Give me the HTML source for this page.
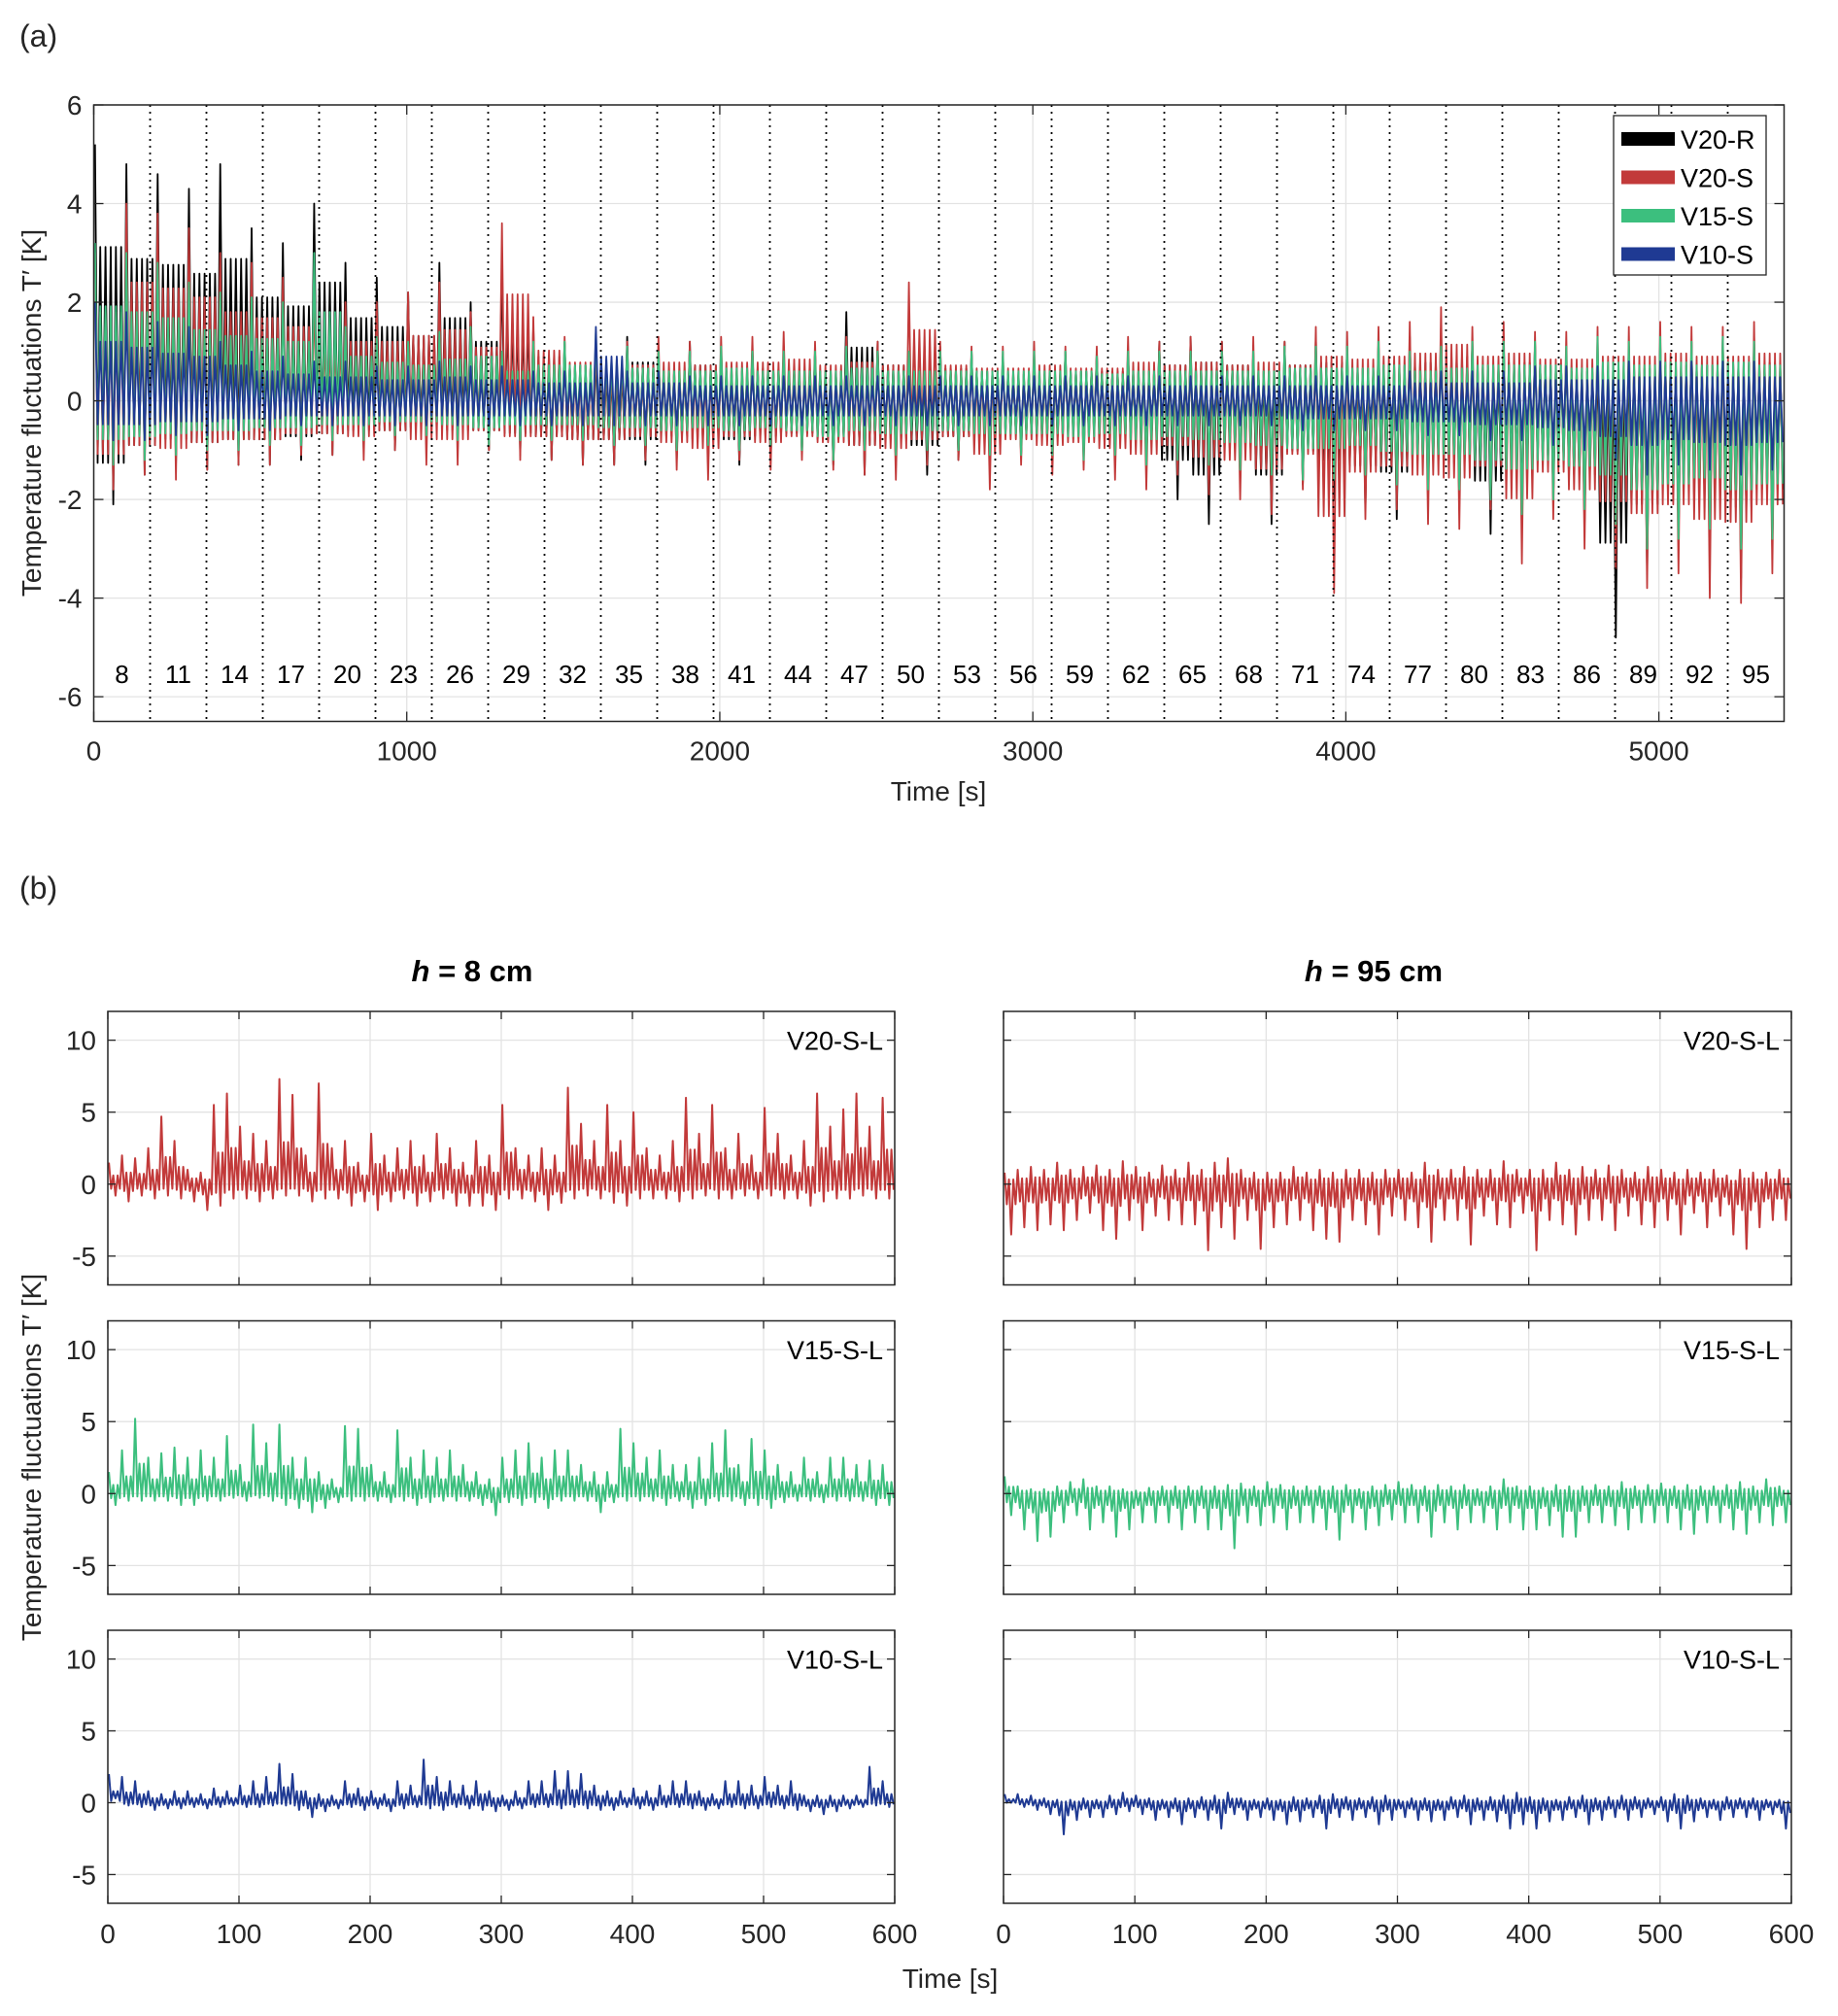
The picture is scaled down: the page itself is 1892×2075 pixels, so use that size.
<!DOCTYPE html>
<html><head><meta charset="utf-8"><style>
html,body{margin:0;padding:0;background:#fff}
svg{display:block;font-family:"Liberation Sans",sans-serif}
</style></head><body>
<svg id="fig" width="1892" height="2075" viewBox="0 0 1892 2075" xmlns="http://www.w3.org/2000/svg"></svg>
<script>
// ---- Panel (a) data: per-100 s envelope (max / min) of each series ----
const aSlotStarts = [0,100,200,300,400,500,600,700,800,900,1000,1100,1200,1300,1400,1500,1600,1700,1800,1900,2000,2100,2200,2300,2400,2500,2600,2700,2800,2900,3000,3100,3200,3300,3400,3500,3600,3700,3800,3900,4000,4100,4200,4300,4400,4500,4600,4700,4800,4900,5000,5100,5200,5300];
const aBlackHi=[5.2,4.8,4.6,4.3,4.8,3.5,3.2,4.0,2.8,2.5,2.2,2.8,2.0,2.8,1.5,1.2,1.0,1.3,1.0,1.2,1.0,1.1,1.0,1.0,1.8,1.2,1.0,1.1,1.0,0.9,0.9,1.0,1.0,1.0,1.2,1.3,1.2,1.0,1.2,1.3,1.1,1.2,1.3,1.5,1.2,1.3,1.2,1.0,1.0,1.1,1.2,1.2,1.3,1.3];
const aBlackLo=[-2.1,-1.5,-1.3,-1.4,-1.3,-1.3,-1.2,-1.1,-1.0,-1.0,-0.9,-1.0,-1.0,-1.1,-1.2,-1.3,-1.3,-1.3,-1.2,-1.3,-1.3,-1.2,-1.1,-1.3,-1.5,-1.3,-1.5,-1.2,-1.2,-1.1,-1.2,-1.1,-1.2,-1.3,-2.0,-2.5,-1.6,-2.5,-1.7,-2.0,-2.2,-2.4,-2.0,-2.1,-2.7,-2.3,-2.0,-2.5,-4.8,-3.5,-2.8,-3.2,-3.6,-3.0];
const aRedHi=[3.0,4.0,3.8,3.5,3.0,2.8,2.5,2.2,2.0,2.0,2.2,2.4,1.8,3.6,1.7,1.3,1.2,1.2,1.3,1.2,1.3,1.3,1.4,1.2,1.3,1.2,2.4,1.2,1.1,1.1,1.2,1.1,1.1,1.3,1.2,1.3,1.2,1.3,1.2,1.5,1.4,1.5,1.6,1.9,1.5,1.6,1.4,1.4,1.5,1.5,1.6,1.5,1.5,1.6];
const aRedLo=[-1.8,-1.5,-1.6,-1.4,-1.3,-1.3,-1.1,-1.1,-1.2,-1.0,-1.3,-1.3,-1.0,-1.2,-1.2,-1.3,-1.3,-1.2,-1.4,-1.6,-1.2,-1.4,-1.2,-1.4,-1.5,-1.6,-1.3,-1.2,-1.8,-1.3,-1.5,-1.4,-1.6,-1.8,-1.5,-1.9,-2.0,-2.3,-1.8,-3.9,-2.4,-2.2,-2.5,-2.6,-2.2,-3.3,-2.4,-3.0,-3.4,-3.8,-3.5,-4.0,-4.1,-3.5];
const aGreenHi=[3.2,3.0,2.8,2.4,2.2,2.1,2.0,3.0,1.5,1.3,1.2,1.4,1.5,1.0,1.2,1.2,1.4,1.1,1.0,1.0,1.1,1.0,1.0,1.0,1.1,1.0,1.0,1.0,1.0,1.0,1.0,1.0,0.9,1.0,1.0,1.0,1.0,1.0,1.1,1.1,1.1,1.2,1.0,1.1,1.2,1.2,1.2,1.1,1.3,1.2,1.3,1.2,1.3,1.2];
const aGreenLo=[-1.3,-1.2,-1.1,-1.0,-1.0,-0.9,-0.9,-0.8,-0.8,-0.7,-0.7,-0.8,-0.9,-0.8,-0.8,-0.8,-0.9,-0.9,-1.0,-0.9,-1.0,-0.9,-1.0,-1.2,-1.0,-1.1,-1.0,-1.0,-1.1,-1.1,-1.1,-1.2,-1.1,-1.3,-1.2,-1.3,-1.4,-1.5,-1.6,-1.6,-1.5,-1.7,-1.8,-1.8,-2.0,-2.3,-2.0,-2.2,-2.5,-3.0,-2.8,-2.6,-3.0,-2.8];
const aBlueHi=[2.0,1.8,1.6,1.5,1.2,1.0,0.9,0.8,0.8,0.7,0.7,0.8,0.7,0.7,0.6,0.6,1.5,0.6,0.6,0.5,0.5,0.5,0.5,0.5,0.5,0.5,0.5,0.5,0.5,0.5,0.5,0.5,0.5,0.5,0.5,0.5,0.5,0.5,0.5,0.5,0.5,0.5,0.6,0.6,0.6,0.6,0.7,0.7,0.7,0.8,0.8,0.8,0.8,0.8];
const aBlueLo=[-0.8,-0.8,-0.7,-0.7,-0.6,-0.6,-0.5,-0.5,-0.5,-0.5,-0.5,-0.5,-0.5,-0.5,-0.5,-0.5,-0.5,-0.5,-0.5,-0.5,-0.5,-0.5,-0.5,-0.5,-0.5,-0.5,-0.5,-0.5,-0.5,-0.5,-0.5,-0.5,-0.5,-0.5,-0.5,-0.5,-0.5,-0.5,-0.6,-0.6,-0.6,-0.6,-0.7,-0.7,-0.8,-0.8,-0.9,-1.0,-1.2,-1.5,-1.3,-1.4,-1.5,-1.4];
const aXTicks=[0,1000,2000,3000,4000,5000];
const aYTicks=[-6,-4,-2,0,2,4,6];
const aSegmentBounds=[180,360,540,720,900,1080,1260,1440,1620,1800,1980,2160,2340,2520,2700,2880,3060,3240,3420,3600,3780,3960,4140,4320,4500,4680,4860,5040,5220];
const aHeightLabels=["8","11","14","17","20","23","26","29","32","35","38","41","44","47","50","53","56","59","62","65","68","71","74","77","80","83","86","89","92","95"];
const aLegendNames=["V20-R","V20-S","V15-S","V10-S"];

// ---- Panel (b) data: per-10 s envelopes ----
const bSlotStarts=[0,10,20,30,40,50,60,70,80,90,100,110,120,130,140,150,160,170,180,190,200,210,220,230,240,250,260,270,280,290,300,310,320,330,340,350,360,370,380,390,400,410,420,430,440,450,460,470,480,490,500,510,520,530,540,550,560,570,580,590];
const bXTicks=[0,100,200,300,400,500,600];
const bYTicks=[-5,0,5,10];
const v20LowHi=[1.5,2.0,1.8,2.5,4.7,3.0,1.0,0.8,5.5,6.3,4.0,3.5,3.0,7.3,6.2,2.0,7.0,2.5,3.0,1.5,3.5,2.0,2.5,3.0,2.0,3.5,2.5,1.5,3.0,2.0,5.5,2.5,2.0,2.5,2.0,6.7,4.2,3.0,5.5,3.0,5.0,2.5,2.0,3.0,6.0,3.5,5.5,2.5,3.5,2.0,5.3,3.5,2.0,3.0,6.3,4.0,5.2,6.3,4.0,6.0];
const v20LowLo=[-0.8,-1.2,-0.8,-1.0,-0.8,-1.0,-1.2,-1.8,-1.5,-1.0,-1.0,-1.2,-1.0,-0.8,-0.8,-1.2,-1.0,-1.0,-1.5,-1.2,-1.8,-1.2,-1.0,-1.5,-1.2,-1.0,-1.5,-1.5,-1.5,-1.8,-1.0,-1.0,-1.2,-1.8,-1.3,-1.0,-0.8,-1.0,-1.3,-1.5,-1.0,-1.0,-1.0,-1.2,-1.0,-0.8,-1.0,-1.0,-0.8,-1.0,-0.8,-1.0,-1.0,-1.5,-1.2,-1.0,-1.0,-0.8,-1.0,-1.0];
const v20HighHi=[0.8,1.0,1.2,1.0,1.5,1.0,1.2,1.3,1.0,1.6,1.2,0.8,1.3,1.0,1.5,1.0,1.5,1.8,1.0,0.8,0.8,0.8,1.2,0.8,1.0,0.8,1.0,1.0,0.8,1.0,1.0,0.8,1.5,1.0,1.0,1.2,1.0,1.0,1.6,1.0,1.0,1.0,1.5,1.0,1.2,1.0,1.3,1.0,0.8,1.2,1.0,0.8,1.0,0.8,1.0,0.6,1.0,0.8,0.8,1.0];
const v20HighLo=[-3.5,-3.0,-3.2,-2.8,-3.2,-2.5,-2.0,-3.2,-3.8,-2.5,-3.2,-2.2,-2.5,-2.8,-2.8,-4.6,-3.0,-3.8,-2.5,-4.5,-3.0,-2.8,-2.5,-3.2,-3.8,-4.0,-2.5,-2.8,-3.5,-2.2,-2.5,-3.0,-4.0,-2.5,-2.5,-4.2,-2.2,-2.8,-3.0,-2.0,-4.6,-2.5,-2.8,-3.5,-2.5,-2.5,-3.2,-2.2,-2.8,-3.0,-2.5,-3.5,-2.0,-3.0,-2.2,-3.5,-4.5,-3.0,-2.5,-2.5];
const v15LowHi=[1.5,3.0,5.2,2.5,2.8,3.2,2.5,3.0,2.5,4.0,2.0,4.8,3.5,4.8,2.5,2.5,1.5,1.0,4.7,4.5,2.0,1.5,4.4,2.5,3.0,2.5,3.0,2.0,1.5,1.0,2.5,3.0,3.5,2.5,3.0,3.0,2.0,1.5,1.5,4.5,3.5,2.5,3.0,2.0,2.0,2.5,3.5,4.4,2.0,3.8,3.0,2.0,1.5,2.5,1.5,2.5,2.5,2.0,2.3,2.0];
const v15LowLo=[-0.8,-0.5,-0.5,-0.5,-0.5,-0.8,-0.8,-0.5,-0.5,-0.3,-0.5,-0.3,-0.5,-0.8,-1.0,-1.3,-1.0,-0.6,-0.5,-0.5,-0.5,-0.6,-0.5,-0.8,-0.6,-0.5,-0.5,-0.5,-0.8,-1.5,-0.6,-0.8,-0.6,-1.0,-0.5,-0.5,-0.5,-1.3,-0.6,-0.5,-0.5,-0.5,-0.8,-0.5,-1.0,-0.8,-0.5,-0.5,-0.8,-0.8,-1.0,-0.6,-0.5,-0.5,-0.6,-0.5,-0.5,-0.5,-0.8,-0.8];
const v15HighHi=[1.2,0.5,0.3,0.3,0.5,0.8,1.0,0.5,0.5,0.3,0.2,0.4,0.5,0.5,0.5,0.5,0.5,0.6,0.7,0.5,0.8,0.6,0.5,0.5,0.5,0.5,0.6,0.3,0.5,0.6,0.8,0.6,0.5,0.6,0.5,0.6,0.3,0.5,1.0,0.5,0.5,0.4,0.6,0.5,0.5,0.6,0.5,0.8,0.5,0.6,0.7,0.5,0.6,0.5,0.5,0.6,0.8,0.5,1.0,0.5];
const v15HighLo=[-1.5,-2.5,-3.3,-3.0,-2.0,-1.5,-2.5,-2.0,-3.0,-2.5,-2.0,-2.0,-2.0,-2.5,-2.0,-2.5,-2.5,-3.8,-2.0,-2.2,-2.0,-2.5,-2.0,-2.0,-2.5,-3.2,-2.0,-2.5,-2.2,-1.8,-2.0,-2.0,-3.0,-2.0,-2.5,-2.0,-2.0,-2.5,-2.0,-2.5,-2.5,-2.2,-3.0,-3.0,-2.0,-2.0,-2.2,-2.5,-2.0,-2.0,-2.0,-2.5,-2.8,-2.0,-2.0,-2.5,-2.8,-2.0,-2.2,-2.0];
const v10LowHi=[2.0,1.8,1.5,0.8,0.6,0.8,0.8,0.6,1.0,0.8,1.2,1.5,1.8,2.7,2.0,0.8,0.6,0.5,1.5,1.0,0.8,0.6,1.5,1.2,3.0,1.8,1.5,1.2,1.5,0.8,0.5,0.8,1.5,1.5,2.2,2.2,2.0,1.2,0.8,0.8,1.0,0.8,1.2,1.5,1.5,0.8,0.6,1.5,1.5,1.2,1.8,1.2,1.5,0.5,0.5,0.5,0.5,0.5,2.5,1.5];
const v10LowLo=[0.3,-0.2,-0.3,-0.5,-0.4,-0.4,-0.3,-0.4,-0.3,-0.2,-0.3,-0.3,-0.2,-0.2,-0.5,-1.0,-0.6,-0.4,-0.3,-0.5,-0.4,-0.6,-0.4,-0.3,-0.4,-0.5,-0.3,-0.4,-0.5,-0.6,-0.5,-0.4,-0.3,-0.3,-0.4,-0.3,-0.4,-0.5,-0.5,-0.3,-0.4,-0.5,-0.3,-0.3,-0.4,-0.5,-0.4,-0.3,-0.4,-0.4,-0.3,-0.4,-0.5,-0.6,-0.8,-0.6,-0.4,-0.3,-0.2,-0.3];
const v10HighHi=[0.6,0.6,0.5,0.3,0.2,0.2,0.3,0.2,0.5,0.7,0.5,0.3,0.2,0.3,0.3,0.4,0.5,0.7,0.3,0.2,0.3,0.2,0.4,0.3,0.5,0.6,0.4,0.3,0.4,0.5,0.2,0.3,0.3,0.2,0.4,0.5,0.3,0.4,0.5,0.7,0.4,0.3,0.2,0.4,0.5,0.3,0.4,0.5,0.4,0.3,0.4,0.6,0.5,0.3,0.2,0.4,0.3,0.3,0.2,0.2];
const v10HighLo=[0,-0.3,-0.5,-0.8,-2.2,-1.2,-1.0,-1.0,-0.8,-0.6,-0.8,-1.2,-1.0,-1.5,-1.0,-1.2,-1.8,-0.8,-1.2,-1.0,-1.2,-1.5,-1.3,-1.0,-1.8,-1.0,-1.2,-1.0,-1.5,-1.2,-1.0,-1.2,-1.3,-1.2,-1.0,-1.5,-1.2,-1.3,-1.8,-1.5,-1.8,-1.3,-1.2,-1.0,-1.5,-1.2,-1.0,-1.2,-1.0,-0.8,-1.3,-1.8,-1.3,-1.0,-1.2,-1.0,-1.0,-1.2,-0.8,-1.8];

const NS="http://www.w3.org/2000/svg";
const svg=document.getElementById('fig');
const C={black:"#000000",red:"#c23a3a",green:"#3cbf7e",blue:"#1f3a93"};
function mk(tag,attrs,parent){const e=document.createElementNS(NS,tag);for(const k in attrs)e.setAttribute(k,attrs[k]);(parent||svg).appendChild(e);return e;}
function txt(s,x,y,size,anchor,parent,extra){const t=mk('text',Object.assign({x:x,y:y,'font-size':size,'text-anchor':anchor||'middle',fill:'#262626'},extra||{}),parent);t.textContent=s;return t;}
function scale(d0,d1,r0,r1){return v=>r0+(v-d0)/(d1-d0)*(r1-r0);}

// Dense oscillating trace within each slot: one sub-cycle reaches the slot's
// recorded max, another its recorded min, the rest stay in the core band.
function drawEnvelope(g,xs,ys,starts,dt,hi,lo,color,w,sub,core){
  let pts=[];
  for(let i=0;i<starts.length;i++){
    for(let k=0;k<sub;k++){
      const t0=starts[i]+dt*k/sub;
      pts.push(xs(t0+dt/sub*0.25).toFixed(1)+','+ys(hi[i]*(k===0?1:core)).toFixed(1));
      pts.push(xs(t0+dt/sub*0.75).toFixed(1)+','+ys(lo[i]*(k===Math.floor(sub/2)?1:core)).toFixed(1));
    }
  }
  return mk('polyline',{points:pts.join(' '),fill:'none',stroke:color,'stroke-width':w,'stroke-linejoin':'round'},g);
}

// ===== Panel (a) =====
const aL=96.5,aR=1836.5,aT=108,aB=742.5;
const ax=scale(0,5400,aL,aR), ay=scale(-6.5,6,aB,aT);
const la=txt('(a)',20,48,32,'start');


const gA=mk('g',{});


mk('rect',{x:aL,y:aT,width:aR-aL,height:aB-aT,fill:'#fff'},gA);
aXTicks.forEach(v=>{const l=mk('line',{x1:ax(v),x2:ax(v),y1:aT,y2:aB,stroke:'#e3e3e3','stroke-width':1.3},gA);
  
  });
aYTicks.forEach(v=>{const l=mk('line',{x1:aL,x2:aR,y1:ay(v),y2:ay(v),stroke:'#e3e3e3','stroke-width':1.3},gA);
  
  });
const aSeries=[[aBlackHi,aBlackLo,C.black,'series-v20-r'],[aRedHi,aRedLo,C.red,'series-v20-s'],[aGreenHi,aGreenLo,C.green,'series-v15-s'],[aBlueHi,aBlueLo,C.blue,'series-v10-s']];
aSeries.forEach(s=>{const p=drawEnvelope(gA,ax,ay,aSlotStarts,100,s[0],s[1],s[2],1.8,6,0.6);
  
  });
aSegmentBounds.forEach(v=>{const l=mk('line',{x1:ax(v),x2:ax(v),y1:aT,y2:aB,stroke:'#000','stroke-width':1.8,'stroke-dasharray':'2 5'},gA);
  
  });
aHeightLabels.forEach((s,i)=>{const t=txt(s,ax(i*180+90),ay(-5.52)+10,26,'middle',gA,{fill:'#000'});
  
  });
mk('rect',{x:aL,y:aT,width:aR-aL,height:aB-aT,fill:'none',stroke:'#262626','stroke-width':1.5},gA);
aXTicks.forEach(v=>{mk('line',{x1:ax(v),x2:ax(v),y1:aB,y2:aB-10,stroke:'#262626','stroke-width':1.3},gA);mk('line',{x1:ax(v),x2:ax(v),y1:aT,y2:aT+10,stroke:'#262626','stroke-width':1.3},gA);
  const t=txt(String(v),ax(v),aB+40,28,'middle',gA);
  
  });
aYTicks.forEach(v=>{mk('line',{x1:aL,x2:aL+10,y1:ay(v),y2:ay(v),stroke:'#262626','stroke-width':1.3},gA);mk('line',{x1:aR,x2:aR-10,y1:ay(v),y2:ay(v),stroke:'#262626','stroke-width':1.3},gA);
  const t=txt(String(v),aL-12,ay(v)+10,28,'end',gA);
  
  });
const axT=txt('Time [s]',966,824,28,'middle');


const ayT=txt('Temperature fluctuations T\u2032 [K]',0,0,28,'middle',svg,{transform:'translate(42,425) rotate(-90)'});


// legend
const gL=mk('g',{});


mk('rect',{x:1661,y:119,width:157,height:164,fill:'#fff',stroke:'#262626','stroke-width':1.3},gL);
[C.black,C.red,C.green,C.blue].forEach((c,i)=>{const y=143+i*39.5;
  const g=mk('g',{},gL);
  
  
  mk('rect',{x:1669,y:y-7,width:55,height:14,fill:c},g);
  txt(aLegendNames[i],1730,y+10,27,'start',g,{fill:'#000'});});

// ===== Panel (b) =====
const lb=txt('(b)',20,925,32,'start');


function colTitle(x,val,name){const t=mk('text',{x:x,y:1010,'font-size':31,'text-anchor':'middle','font-weight':'bold',fill:'#000'});
  const a=mk('tspan',{'font-style':'italic'},t);a.textContent='h';
  const b=mk('tspan',{},t);b.textContent=' = '+val+' cm';
  
  }
colTitle(486,'8','column-title-8cm');
colTitle(1414,'95','column-title-95cm');
const cols=[[111,921],[1033,1844]];
const rows=[[1041,1322.5],[1359.5,1641],[1678,1959]];
const bPanels=[
 [0,0,v20LowHi,v20LowLo,C.red,'V20-S-L','v20-8cm'],
 [1,0,v20HighHi,v20HighLo,C.red,'V20-S-L','v20-95cm'],
 [0,1,v15LowHi,v15LowLo,C.green,'V15-S-L','v15-8cm'],
 [1,1,v15HighHi,v15HighLo,C.green,'V15-S-L','v15-95cm'],
 [0,2,v10LowHi,v10LowLo,C.blue,'V10-S-L','v10-8cm'],
 [1,2,v10HighHi,v10HighLo,C.blue,'V10-S-L','v10-95cm']];
bPanels.forEach(P=>{
  const [L,R]=cols[P[0]],[T,B]=rows[P[1]];
  const xs=scale(0,600,L,R), ys=scale(-7,12,B,T);
  const g=mk('g',{});
  
  
  mk('rect',{x:L,y:T,width:R-L,height:B-T,fill:'#fff'},g);
  bXTicks.forEach(v=>mk('line',{x1:xs(v),x2:xs(v),y1:T,y2:B,stroke:'#e3e3e3','stroke-width':1.3},g));
  bYTicks.forEach(v=>mk('line',{x1:L,x2:R,y1:ys(v),y2:ys(v),stroke:'#e3e3e3','stroke-width':1.3},g));
  const p=drawEnvelope(g,xs,ys,bSlotStarts,10,P[2],P[3],P[4],2,3,0.4);
  
  
  mk('rect',{x:L,y:T,width:R-L,height:B-T,fill:'none',stroke:'#262626','stroke-width':1.5},g);
  bXTicks.forEach(v=>{mk('line',{x1:xs(v),x2:xs(v),y1:B,y2:B-8,stroke:'#262626','stroke-width':1.3},g);mk('line',{x1:xs(v),x2:xs(v),y1:T,y2:T+8,stroke:'#262626','stroke-width':1.3},g);});
  bYTicks.forEach(v=>{mk('line',{x1:L,x2:L+8,y1:ys(v),y2:ys(v),stroke:'#262626','stroke-width':1.3},g);mk('line',{x1:R,x2:R-8,y1:ys(v),y2:ys(v),stroke:'#262626','stroke-width':1.3},g);
    if(P[0]===0){const t=txt(String(v),L-12,ys(v)+10,28,'end',g);
      
      }});
  if(P[1]===2){bXTicks.forEach(v=>{const t=txt(String(v),xs(v),B+41,28,'middle',g);
      
      });}
  const lab=txt(P[5],R-12,ys(10)+10,27,'end',g,{fill:'#000'});
  
  
});
const bxT=txt('Time [s]',978,2046,28,'middle');


const byT=txt('Temperature fluctuations T\u2032 [K]',0,0,28,'middle',svg,{transform:'translate(42,1500) rotate(-90)'});


</script>
</body></html>
